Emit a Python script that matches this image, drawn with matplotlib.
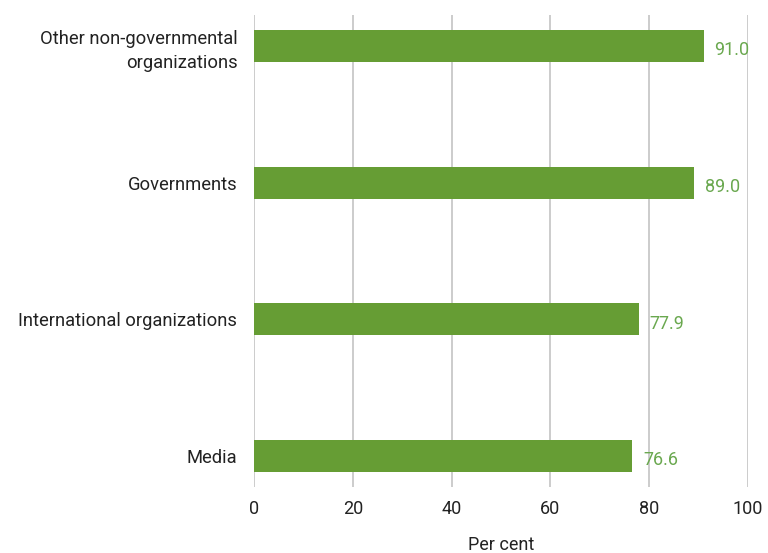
import matplotlib.pyplot as plt

categories = ['Other non-governmental\norganizations', 'Governments',
              'International organizations', 'Media']
values = [91.0, 89.0, 77.9, 76.6]

plt.rcParams['font.family'] = ['Roboto', 'DejaVu Sans']

fig = plt.figure(figsize=(7.68, 5.53), dpi=100)
ax = fig.add_axes([0.3307, 0.119, 0.6433, 0.854])

ypos = range(len(categories))
ax.barh(ypos, values, height=0.235, color='#669d34', zorder=3)
for y, v in zip(ypos, values):
    ax.text(v + 2.2, y + 0.03, f'{v:.1f}', va='center', ha='left', fontsize=13,
            color='#6aa84f')

ax.set_xlim(0, 100)
ax.set_ylim(3.227, -0.227)
ax.set_xticks(range(0, 101, 20))
ax.set_yticks(list(ypos))
ax.set_yticklabels(categories, fontsize=13.2, color='#222222', linespacing=1.4)
ax.tick_params(axis='x', labelsize=13, colors='#222222', length=0, pad=9)
ax.tick_params(axis='y', length=0, pad=12)
ax.grid(axis='x', color='#c4c4c4', linewidth=1.2, zorder=0)
for s in ax.spines.values():
    s.set_visible(False)
ax.set_xlabel('Per cent', fontsize=13, color='#222222', labelpad=13)

fig.savefig('out.png', dpi=100)
